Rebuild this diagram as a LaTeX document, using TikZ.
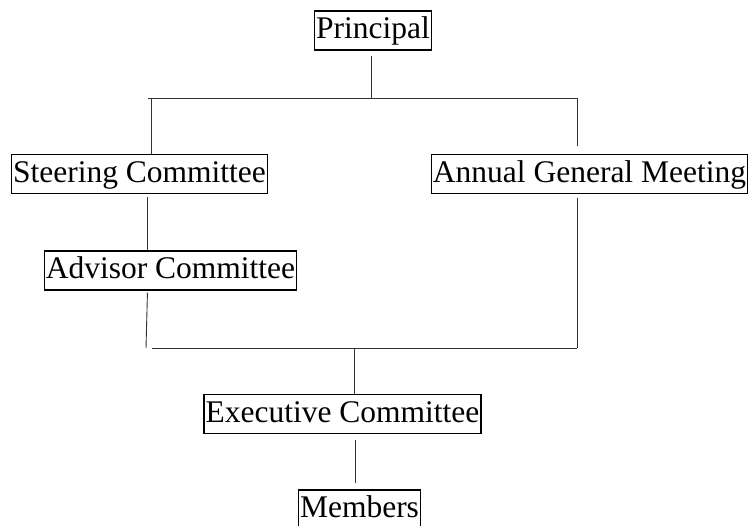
\documentclass[tikz,border=0pt]{standalone}
\usepackage{fontspec}
\setmainfont{Liberation Serif}
\usepackage{tikz}
\tikzset{
  orgbox/.style={draw, line width=1.4pt, inner xsep=1.5pt, inner ysep=5pt,
    text height=23pt, text depth=6pt, font=\fontsize{31.5}{36}\selectfont},
  link/.style={line width=0.9pt, draw=black!80}
}

\begin{document}
\begin{tikzpicture}[x=1pt,y=1pt]
  \useasboundingbox (0,0) rectangle (749,526);
  % boxes
  \node[orgbox] (principal) at (373,495.5) {Principal};
  \node[orgbox] (steering) at (139.5,352) {Steering Committee};
  \node[orgbox] (annual) at (589.5,352) {Annual General Meeting};
  \node[orgbox] (advisor) at (170.5,255.5) {Advisor Committee};
  \node[orgbox] (executive) at (342.5,112) {Executive Committee};
  \node[orgbox] (members) at (359.5,16.5) {Members};
  % bus ends
  \coordinate (tl) at (148,427.5);   % top bus, left end
  \coordinate (tr) at (577,427.5);   % top bus, right end
  \coordinate (sdrop) at (151,427.5);
  \coordinate (bl) at (152,178);     % bottom bus, left end
  \coordinate (br) at (577,178);     % bottom bus, right end
  \coordinate (bm) at (354,178);
  % principal down to the top bus
  \draw[link,shorten <=5pt] ([xshift=-2pt]principal.south) -- ([xshift=-2pt]principal.south |- tl);
  \draw[link] (tl) -- (tr);
  \draw[link] (sdrop) -- (sdrop |- steering.north);
  \draw[link,shorten >=8pt] (tr) -- (tr |- annual.north);
  % left branch
  \draw[link,shorten <=3pt] ([xshift=7.5pt]steering.south) -- ([xshift=7.5pt]steering.south |- advisor.north);
  \draw[link,shorten <=2pt] ([xshift=-23pt]advisor.south) -- ([xshift=-6pt]bl);
  % right branch and bottom bus
  \draw[link,shorten <=4pt] (br |- annual.south) -- (br);
  \draw[link] (bl) -- (br);
  \draw[link] (bm) -- (bm |- executive.north);
  % executive down to members
  \draw[link,shorten <=6pt,shorten >=6pt] ([xshift=12.5pt]executive.south) -- ([xshift=12.5pt]executive.south |- members.north);
\end{tikzpicture}
\end{document}
